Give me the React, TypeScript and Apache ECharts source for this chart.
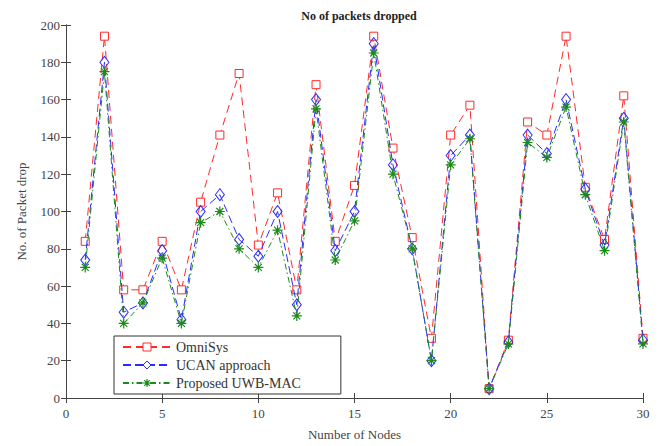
import React, { useEffect, useRef } from "react";
import * as echarts from "echarts";

const nodes = [1, 2, 3, 4, 5, 6, 7, 8, 9, 10, 11, 12, 13, 14, 15, 16, 17, 18, 19, 20, 21, 22, 23, 24, 25, 26, 27, 28, 29, 30];
const omniSys = [84, 194, 58, 58, 84, 58, 105, 141, 174, 82, 110, 58, 168, 84, 114, 194, 134, 86, 32, 141, 157, 5, 31, 148, 141, 194, 113, 85, 162, 32];
const ucan = [74, 180, 46, 51, 79, 42, 100, 109, 85, 76, 100, 50, 160, 79, 100, 190, 125, 80, 20, 130, 141, 5, 30, 141, 131, 160, 112, 82, 150, 31];
const uwbMac = [70, 175, 40, 51, 75, 40, 94, 100, 80, 70, 90, 44, 155, 74, 95, 185, 120, 80, 20, 125, 139, 5, 29, 137, 129, 156, 109, 79, 148, 29];
const xTicks = [0, 5, 10, 15, 20, 25, 30];
const yTicks = [0, 20, 40, 60, 80, 100, 120, 140, 160, 180, 200];

const FONT = "'Liberation Serif', 'Times New Roman', serif";
const asterisk = "path://M5 0L5 10M0 5L10 5M1.5 1.5L8.5 8.5M8.5 1.5L1.5 8.5";

export default function App() {
  const ref = useRef<HTMLDivElement>(null);
  useEffect(() => {
    if (!ref.current) return;
    const chart = echarts.init(ref.current, null, { renderer: "svg" });
    const pair = (ys: number[]) => nodes.map((x, i) => [x, ys[i]]);
    const axisCommon = {
      type: "value" as const,
      axisLine: { show: true, lineStyle: { color: "#444", width: 1 } },
      axisTick: { show: true, inside: true, length: 5, lineStyle: { color: "#444" } },
      splitLine: { show: false },
    };
    chart.setOption({
      animation: false,
      backgroundColor: "#fff",
      title: {
        text: "No of packets dropped",
        left: 354,
        top: 5,
        textAlign: "center",
        textStyle: { fontFamily: FONT, fontSize: 12, fontWeight: "bold", color: "#222" },
      },
      grid: { left: 66, right: 22, top: 25, bottom: 44 },
      xAxis: [
        {
          ...axisCommon,
          min: xTicks[0],
          max: xTicks[xTicks.length - 1],
          interval: 5,
          name: "Number of Nodes",
          nameLocation: "middle",
          nameGap: 30,
          nameTextStyle: { fontFamily: FONT, fontSize: 13, color: "#444" },
          axisLabel: { fontFamily: FONT, fontSize: 13, color: "#444", margin: 9 },
        },
        {
          ...axisCommon,
          position: "top",
          min: xTicks[0],
          max: xTicks[xTicks.length - 1],
          interval: 5,
          axisLabel: { show: false },
        },
      ],
      yAxis: [
        {
          ...axisCommon,
          min: yTicks[0],
          max: yTicks[yTicks.length - 1],
          interval: 20,
          name: "No. of Packet drop",
          nameLocation: "middle",
          nameGap: 38,
          nameTextStyle: { fontFamily: FONT, fontSize: 13, color: "#444" },
          axisLabel: { fontFamily: FONT, fontSize: 13, color: "#444", margin: 6 },
        },
        {
          ...axisCommon,
          position: "right",
          min: yTicks[0],
          max: yTicks[yTicks.length - 1],
          interval: 20,
          axisLabel: { show: false },
        },
      ],
      legend: {
        orient: "vertical",
        left: 114,
        top: 336,
        width: 192,
        padding: [4, 40, 4, 8],
        itemGap: 4,
        itemWidth: 48,
        itemHeight: 10,
        backgroundColor: "#fff",
        borderColor: "#333",
        borderWidth: 1,
        borderRadius: 0,
        textStyle: { fontFamily: FONT, fontSize: 14, color: "#333" },
        data: [
          { name: "OmniSys", itemStyle: { color: "#fff", borderColor: "#ff2a2a", borderWidth: 1 } },
          { name: "UCAN approach", itemStyle: { color: "#fff", borderColor: "#2a2aff", borderWidth: 1 } },
          { name: "Proposed UWB-MAC", itemStyle: { color: "rgba(0,0,0,0)", borderColor: "#1a8a1a", borderWidth: 1.2 } },
        ],
      },
      series: [
        {
          name: "OmniSys",
          type: "line",
          data: pair(omniSys),
          symbol: "rect",
          symbolSize: 8,
          lineStyle: { color: "#ff2a2a", width: 1, type: [8, 5] },
          itemStyle: { color: "#fff", borderColor: "#ff2a2a", borderWidth: 1 },
          z: 2,
        },
        {
          name: "UCAN approach",
          type: "line",
          data: pair(ucan),
          symbol: "diamond",
          symbolSize: [9, 12],
          lineStyle: { color: "#2a2aff", width: 1, type: [8, 4] },
          itemStyle: { color: "rgba(255,255,255,0)", borderColor: "#2a2aff", borderWidth: 1 },
          z: 3,
        },
        {
          name: "Proposed UWB-MAC",
          type: "line",
          data: pair(uwbMac),
          symbol: asterisk,
          symbolSize: 10,
          lineStyle: { color: "#1a8a1a", width: 1, type: [6, 3, 1.5, 3] },
          itemStyle: { color: "rgba(0,0,0,0)", borderColor: "#1a8a1a", borderWidth: 1.2 },
          z: 4,
        },
      ],
    });
    return () => chart.dispose();
  }, []);
  return <div ref={ref} style={{ width: 665, height: 446, position: "absolute", left: 0, top: 0 }} />;
}
